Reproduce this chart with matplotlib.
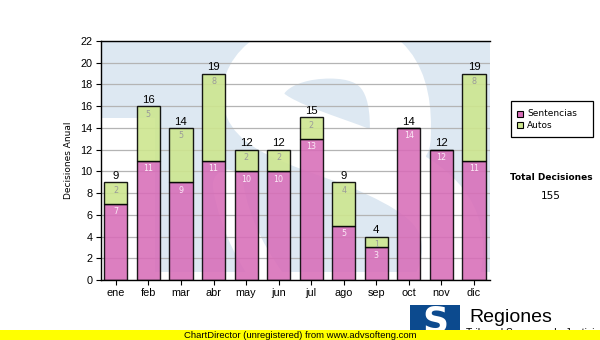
import matplotlib.pyplot as plt
from matplotlib.path import Path
from matplotlib.patches import PathPatch, Rectangle

plt.rcParams['font.family'] = ['Liberation Sans', 'DejaVu Sans']

# monthly decisions
meses = ['ene', 'feb', 'mar', 'abr', 'may', 'jun', 'jul', 'ago', 'sep', 'oct', 'nov', 'dic']
sentencias = [7, 11, 9, 11, 10, 10, 13, 5, 3, 14, 12, 11]
autos = [2, 5, 5, 8, 2, 2, 2, 4, 1, 0, 0, 8]
totales = [s + a for s, a in zip(sentencias, autos)]
yticks = list(range(0, 23, 2))

pink = '#d86db8'
green = '#cde68f'
wm_blue = '#dde8f2'

fig = plt.figure(figsize=(6, 3.4), dpi=100)

# background layer in pixel units (y down)
bg = fig.add_axes([0, 0, 1, 1], zorder=0)
bg.set_xlim(0, 600)
bg.set_ylim(340, 0)
bg.axis('off')

# watermark logo behind the plot area
clip = Rectangle((101, 41), 389, 231, transform=bg.transData)
blue = Path([(101, 41), (490, 41), (490, 272), (155, 272), (155, 118), (101, 118), (101, 41)],
            [Path.MOVETO] + [Path.LINETO] * 5 + [Path.CLOSEPOLY])
p = PathPatch(blue, facecolor=wm_blue, edgecolor='none')
bg.add_patch(p)
p.set_clip_path(clip)

s_verts = [(400, 140),
           (404, 75), (380, 48), (330, 48),
           (275, 48), (245, 78), (255, 105),
           (264, 128), (320, 142), (365, 160),
           (410, 180), (448, 200), (452, 240),
           (455, 265), (445, 290), (430, 305)]
s_codes = [Path.MOVETO] + [Path.CURVE4] * 15
stroke = PathPatch(Path(s_verts, s_codes), facecolor='none', edgecolor='white',
                   lw=44, capstyle='round')
bg.add_patch(stroke)
stroke.set_clip_path(clip)

tail = PathPatch(Path([(228, 185), (235, 228), (255, 262), (280, 295)],
                      [Path.MOVETO] + [Path.CURVE4] * 3),
                 facecolor='none', edgecolor='white', lw=22, capstyle='round')
bg.add_patch(tail)
tail.set_clip_path(clip)

# main chart
ax = fig.add_axes([101 / 600, 60 / 340, 389 / 600, 239 / 340], zorder=1)
ax.patch.set_alpha(0)
x = range(len(meses))
ax.set_axisbelow(True)
ax.yaxis.grid(True, color='#b4b4b4', lw=0.9)

ax.bar(x, sentencias, width=0.71, color=pink, alpha=0.88, edgecolor='black', lw=1)
ax.bar(x, autos, bottom=sentencias, width=0.71, color=green, alpha=0.9,
       edgecolor='black', lw=1)

for i in x:
    ax.annotate(str(sentencias[i]), (i, sentencias[i]), xytext=(0, -2.5),
                textcoords='offset points', ha='center', va='top',
                fontsize=5.8, color='#fbeaf6', family='DejaVu Sans')
    if autos[i]:
        ax.annotate(str(autos[i]), (i, totales[i]), xytext=(0, -2.5),
                    textcoords='offset points', ha='center', va='top',
                    fontsize=5.8, color='#9a9a9a', family='DejaVu Sans')
    ax.annotate(str(totales[i]), (i, totales[i]), xytext=(0, 2.3),
                textcoords='offset points', ha='center', va='baseline',
                fontsize=8.2, color='black')

ax.set_xlim(-0.455, 11.49)
ax.set_ylim(0, 22)
ax.set_yticks(yticks)
ax.set_xticks(list(x))
ax.set_xticklabels(meses)
ax.tick_params(axis='both', direction='out', length=3.5, width=0.8,
               labelsize=7.8, pad=2.5)
for side in ['left', 'bottom', 'top']:
    ax.spines[side].set_linewidth(1)
ax.spines['right'].set_visible(False)
ax.set_ylabel('Decisiones Anual', fontsize=6.5, family='DejaVu Sans', labelpad=5)

# legend box
bg.add_patch(Rectangle((511, 100.5), 82, 36, facecolor='white', edgecolor='black', lw=0.9))
for yy, col, name in [(114, pink, 'Sentencias'), (125, green, 'Autos')]:
    bg.add_patch(Rectangle((517, yy - 3), 6, 6, facecolor=col, edgecolor='black', lw=0.8))
    bg.text(527, yy, name, fontsize=6.5, va='center', ha='left', family='DejaVu Sans')

bg.text(551, 177, 'Total Decisiones', fontsize=6.5, weight='bold', ha='center',
        va='center', family='DejaVu Sans')
bg.text(551, 196, str(sum(totales)), fontsize=7.5, ha='center', va='center',
        family='DejaVu Sans')

# footer logo
bg.add_patch(Rectangle((410, 305), 50, 35, facecolor='#0c4a8e', edgecolor='none'))
bg.text(435, 322, 'S', fontsize=26, weight='bold', color='white', ha='center',
        va='center', family='DejaVu Sans')
bg.text(469, 322, 'Regiones', fontsize=14, ha='left', va='baseline')
bg.text(466, 327.5, 'Tribunal Supremo de Justicia', fontsize=7.5, ha='left', va='top')

# unregistered banner
bg.add_patch(Rectangle((0, 330), 600, 10, facecolor='#ffff00', edgecolor='none', zorder=5))
bg.text(300, 335.5, 'ChartDirector (unregistered) from www.advsofteng.com',
        fontsize=6.8, ha='center', va='center', zorder=6)

fig.savefig('out.png', dpi=100)
